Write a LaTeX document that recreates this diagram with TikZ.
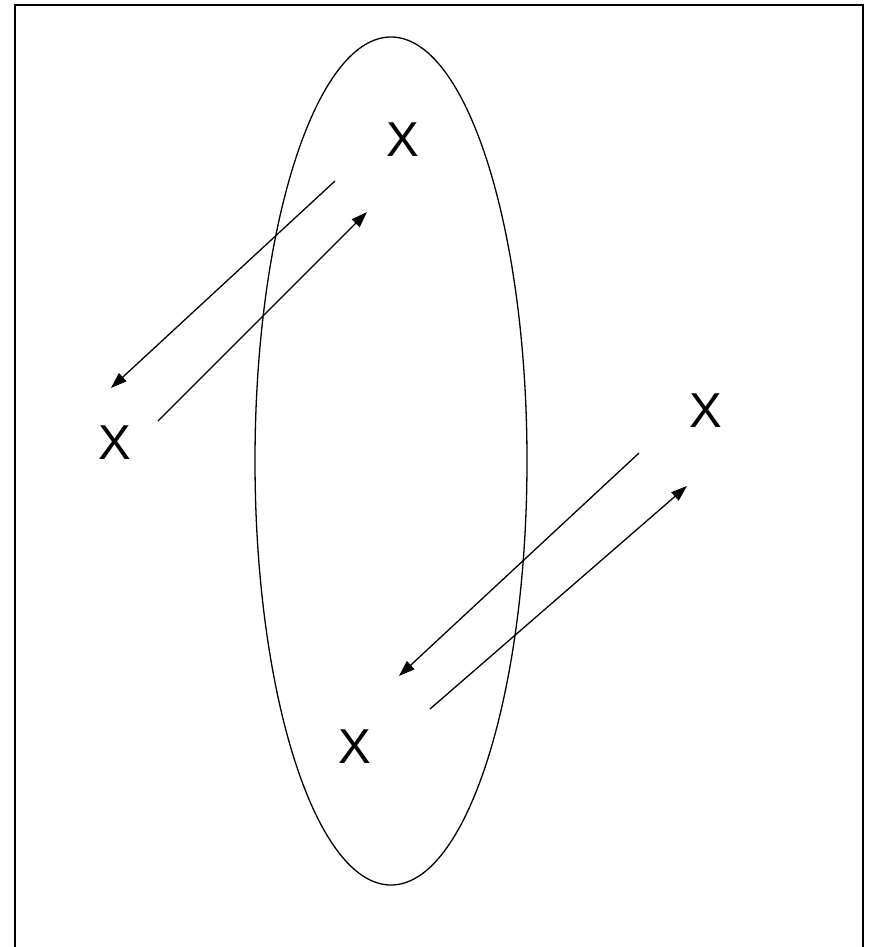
\documentclass[tikz,border=0pt]{standalone}
\usepackage{fontspec}
\setmainfont{Liberation Sans}
\usetikzlibrary{arrows.meta}
\begin{document}
\begin{tikzpicture}[x=1pt,y=-1pt,
  lbl/.style={inner sep=0pt,font=\fontsize{49}{50}\selectfont},
  arr/.style={line width=1.3pt,-{Triangle[length=16pt,width=11pt]}}]
\useasboundingbox (0,0) rectangle (870,947);
\draw[line width=2pt] (15,947) -- (15,5) -- (863,5) -- (863,947);
\draw[line width=1.3pt] (391,461) ellipse [x radius=136, y radius=424];
\node[lbl] (x1) at (403,140) {X};
\node[lbl] (x2) at (115,443) {X};
\node[lbl] (x3) at (706,411) {X};
\node[lbl] (x4) at (355,747) {X};
\coordinate (a1s) at (335,181);
\coordinate (a1e) at (111,388);
\coordinate (a2s) at (158,421);
\coordinate (a2e) at (367,212);
\coordinate (a3s) at (639,453);
\coordinate (a3e) at (399,676);
\coordinate (a4s) at (430,709);
\coordinate (a4e) at (687,486);
\draw[arr] (a1s) -- (a1e);
\draw[arr] (a2s) -- (a2e);
\draw[arr] (a3s) -- (a3e);
\draw[arr] (a4s) -- (a4e);
\end{tikzpicture}
\end{document}
